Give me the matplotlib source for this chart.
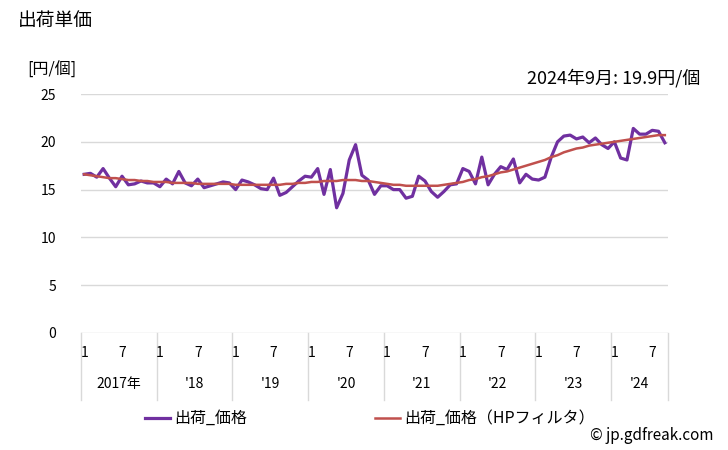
import matplotlib
matplotlib.use("Agg")
import matplotlib.pyplot as plt
import numpy as np

plt.rcParams['font.family'] = ['Noto Sans CJK JP', 'DejaVu Sans']

years = ["2017年", "'18", "'19", "'20", "'21", "'22", "'23", "'24"]
month_ticks = ["1", "7"]

price = [
    16.6, 16.7, 16.3, 17.2, 16.2, 15.3, 16.4, 15.5, 15.6, 15.9, 15.7, 15.7,   # 2017
    15.3, 16.1, 15.6, 16.9, 15.7, 15.4, 16.1, 15.2, 15.4, 15.6, 15.8, 15.7,   # 2018
    15.0, 16.0, 15.8, 15.5, 15.1, 15.0, 16.2, 14.4, 14.7, 15.3, 15.9, 16.4,   # 2019
    16.3, 17.2, 14.5, 17.1, 13.1, 14.6, 18.1, 19.7, 16.5, 16.0, 14.5, 15.4,   # 2020
    15.4, 15.0, 15.0, 14.1, 14.3, 16.4, 15.9, 14.8, 14.2, 14.8, 15.5, 15.6,   # 2021
    17.2, 16.9, 15.6, 18.4, 15.5, 16.6, 17.4, 17.1, 18.2, 15.7, 16.6, 16.1,   # 2022
    16.0, 16.3, 18.4, 20.0, 20.6, 20.7, 20.3, 20.5, 19.9, 20.4, 19.7, 19.3,   # 2023
    20.0, 18.3, 18.1, 21.4, 20.8, 20.8, 21.2, 21.1, 19.9,                     # 2024
]

trend = [
    16.6, 16.5, 16.4, 16.3, 16.2, 16.2, 16.1, 16.0, 16.0, 15.9, 15.9, 15.8,
    15.8, 15.8, 15.7, 15.7, 15.7, 15.7, 15.6, 15.6, 15.6, 15.6, 15.6, 15.6,
    15.5, 15.5, 15.5, 15.5, 15.5, 15.5, 15.5, 15.5, 15.6, 15.6, 15.7, 15.7,
    15.8, 15.8, 15.9, 15.9, 15.9, 16.0, 16.0, 16.0, 15.9, 15.9, 15.8, 15.7,
    15.6, 15.5, 15.5, 15.4, 15.4, 15.4, 15.4, 15.4, 15.4, 15.5, 15.6, 15.7,
    15.8, 16.0, 16.1, 16.3, 16.4, 16.6, 16.8, 16.9, 17.1, 17.3, 17.5, 17.7,
    17.9, 18.1, 18.4, 18.6, 18.9, 19.1, 19.3, 19.4, 19.6, 19.7, 19.8, 19.9,
    20.0, 20.1, 20.2, 20.3, 20.4, 20.5, 20.6, 20.7, 20.7,
]

yticks = [0, 5, 10, 15, 20, 25]

W, H = 728, 450
fig = plt.figure(figsize=(W / 100, H / 100), dpi=100)
L, R, T, B = 81, 668, 94, 333
ax = fig.add_axes([L / W, 1 - B / H, (R - L) / W, (B - T) / H])

x = np.arange(len(price))
n = len(price)
ax.set_xlim(-0.5, n - 0.5)
ax.set_ylim(0, 25)

for v in yticks:
    ax.axhline(v, color='#d9d9d9', lw=1, zorder=0)

ax.plot(x, price, color='#7030A0', lw=2.3, zorder=3, label='出荷_価格')
ax.plot(x, trend, color='#C0504D', lw=1.8, zorder=4, label='出荷_価格（HPフィルタ）')

for s in ax.spines.values():
    s.set_visible(False)
ax.set_yticks(yticks)
ax.set_yticklabels([str(v) for v in yticks], fontsize=10)
ax.tick_params(axis='y', length=0, pad=18)
ax.set_xticks([])

# year separators and labels below the axis
trans = ax.get_xaxis_transform()
sep_bottom = -(400 - B) / (B - T)
bounds = list(np.arange(-0.5, n, 12)) + [n - 0.5]
for b in bounds:
    ax.plot([b, b], [0, sep_bottom], transform=trans, color='#d9d9d9', lw=1, clip_on=False)

y_month = -(353 - B) / (B - T)
y_year = -(384 - B) / (B - T)
for i, yl in enumerate(years):
    start = i * 12
    for m, lab in zip([0, 6], month_ticks):
        if start + m < n:
            ax.text(start + m, y_month, lab, transform=trans, ha='center', va='center', fontsize=10)
    end = min(start + 12, n)
    ax.text((start - 0.5 + end - 0.5) / 2, y_year, yl, transform=trans,
            ha='center', va='center', fontsize=10)

fig.text(18 / W, 1 - 20 / H, '出荷単価', fontsize=13.5, ha='left', va='center')
fig.text(27 / W, 1 - 70 / H, '[円/個]', fontsize=11.5, ha='left', va='center')
fig.text(700 / W, 1 - 78 / H, '2024年9月: 19.9円/個', fontsize=13, ha='right', va='center')

# legend
ly = 1 - 418 / H
fig.lines.append(plt.Line2D([145 / W, 170 / W], [ly, ly], color='#7030A0', lw=2.3, transform=fig.transFigure))
fig.text(174 / W, ly, '出荷_価格', fontsize=11.5, ha='left', va='center')
fig.lines.append(plt.Line2D([375 / W, 400 / W], [ly, ly], color='#C0504D', lw=1.8, transform=fig.transFigure))
fig.text(404 / W, ly, '出荷_価格（HPフィルタ）', fontsize=11.5, ha='left', va='center')

fig.text(714 / W, 1 - 436 / H, '© jp.gdfreak.com', fontsize=11, ha='right', va='center')

fig.savefig('out.png', dpi=100)
